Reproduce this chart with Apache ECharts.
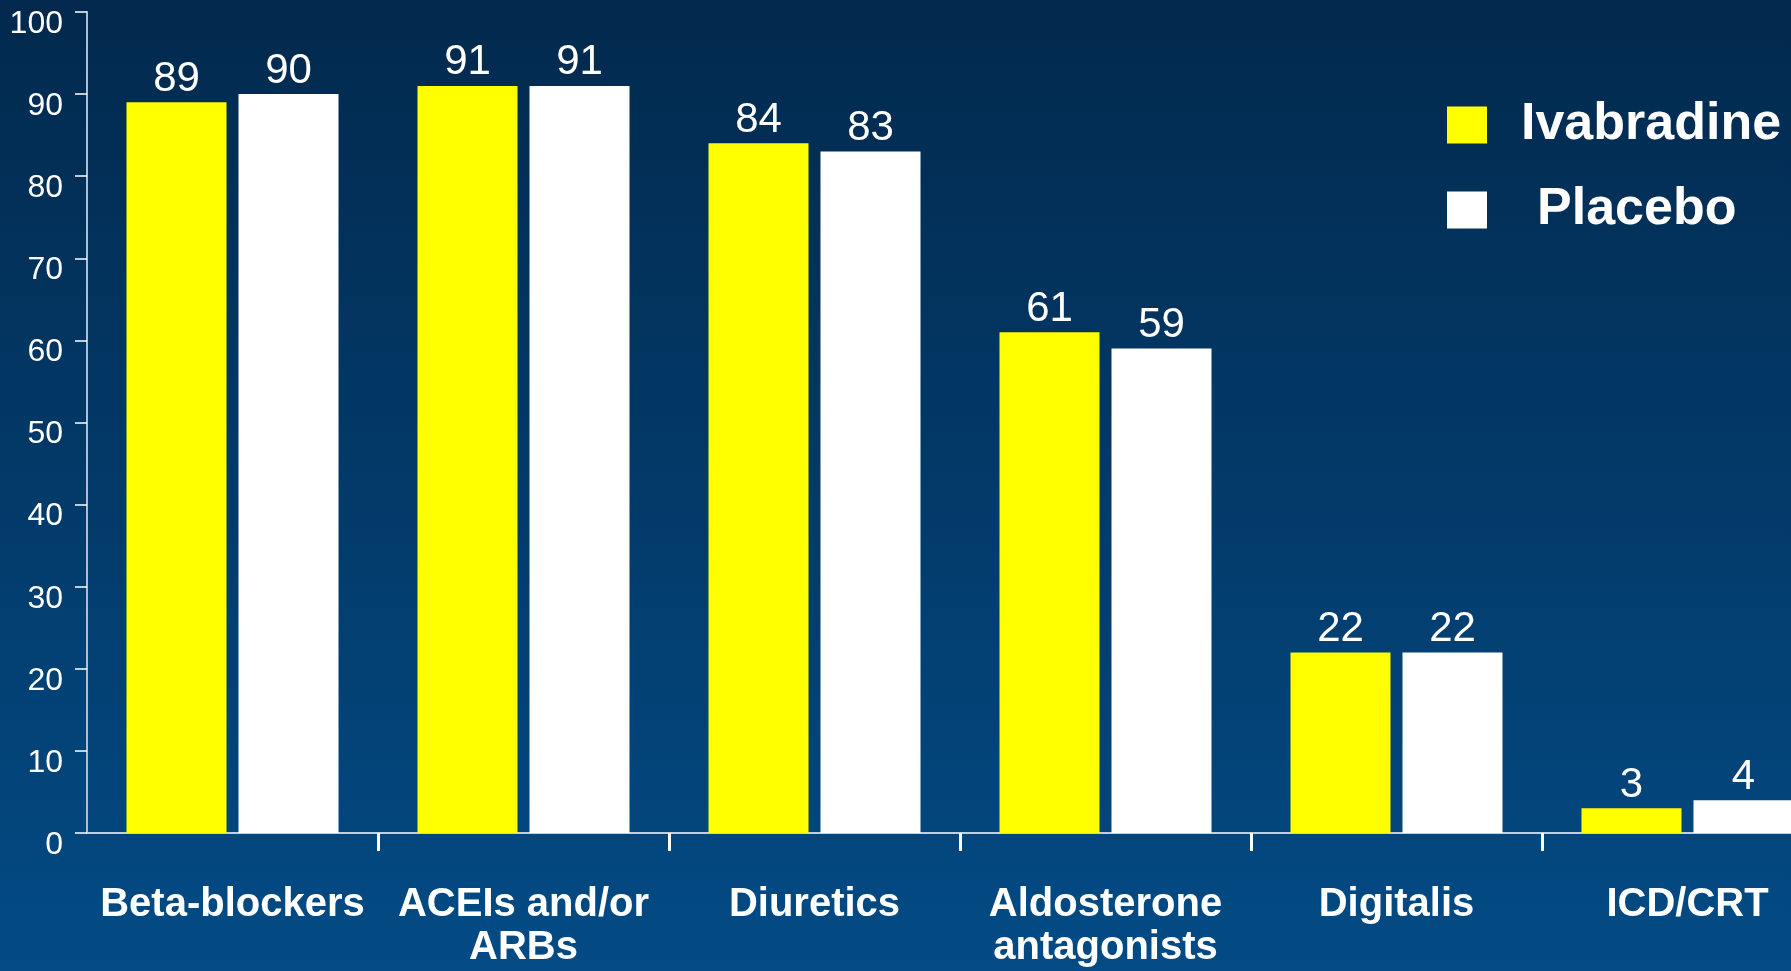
<!DOCTYPE html>
<html>
<head>
<meta charset="utf-8">
<script src="https://cdn.jsdelivr.net/npm/echarts@6/dist/echarts.min.js"></script>
<style>
  html, body { margin: 0; padding: 0; width: 100%; height: 100%; overflow: hidden; background: #034c84; }
  /* the plot runs past the right edge of the window, so the last pair of bars is cut off */
  #chart { width: 1833px; height: 971px; }
</style>
</head>
<body>
<div id="chart"></div>
<script>
// Concomitant medication use at baseline (% of patients)
const categories = ['Beta-blockers', 'ACEIs and/or\nARBs', 'Diuretics', 'Aldosterone\nantagonists', 'Digitalis', 'ICD/CRT'];
const ivabradine = [89, 91, 84, 61, 22, 3];
const placebo = [90, 91, 83, 59, 22, 4];
const yTicks = { min: 0, max: 100, interval: 10 };

const FONT = '"Liberation Sans", Arial, Helvetica, sans-serif';

const chart = echarts.init(document.getElementById('chart'), null, { renderer: 'canvas' });

const barLabel = {
  show: true,
  position: 'top',
  distance: 2,
  color: '#ffffff',
  fontFamily: FONT,
  fontSize: 42,
  fontWeight: 'normal'
};

chart.setOption({
  backgroundColor: {
    type: 'linear', x: 0, y: 0, x2: 0, y2: 1,
    colorStops: [
      { offset: 0, color: '#02294d' },
      { offset: 1, color: '#034b85' }
    ]
  },
  animation: false,
  textStyle: { fontFamily: FONT },
  legend: {
    orient: 'vertical',
    left: 1447,
    top: 99,
    padding: 0,
    itemWidth: 40,
    itemHeight: 37,
    itemGap: 33,
    icon: 'rect',
    data: ['Ivabradine', 'Placebo'],
    formatter: function (name) {
      return name === 'Placebo' ? '{p|' + name + '}' : '{i|' + name + '}';
    },
    textStyle: {
      color: '#ffffff',
      fontFamily: FONT,
      fontSize: 52,
      fontWeight: 'bold',
      rich: {
        i: { fontSize: 52, fontWeight: 'bold', color: '#ffffff', fontFamily: FONT, padding: [0, 0, 0, 29] },
        p: { fontSize: 52, fontWeight: 'bold', color: '#ffffff', fontFamily: FONT, padding: [0, 0, 0, 45] }
      }
    }
  },
  grid: {
    left: 87,
    right: 0,
    top: 12,
    bottom: 138,
    containLabel: false
  },
  xAxis: {
    type: 'category',
    data: categories,
    boundaryGap: true,
    axisLine: { show: true, lineStyle: { color: '#c4cfde', width: 2 } },
    axisTick: {
      show: true,
      interval: function (index) { return index > 0; },
      length: 18,
      lineStyle: { color: '#ffffff', width: 3 }
    },
    axisLabel: {
      color: '#ffffff',
      fontFamily: FONT,
      fontSize: 40,
      fontWeight: 'bold',
      lineHeight: 43,
      margin: 50,
      interval: 0,
      align: 'center'
    }
  },
  yAxis: {
    type: 'value',
    min: yTicks.min,
    max: yTicks.max,
    interval: yTicks.interval,
    splitLine: { show: false },
    axisLine: { show: true, lineStyle: { color: '#aebdd2', width: 2 } },
    axisTick: { show: true, inside: false, length: 12, lineStyle: { color: '#ffffff', width: 1.5 } },
    axisLabel: {
      color: '#ffffff',
      fontFamily: FONT,
      fontSize: 32,
      margin: 24,
      verticalAlign: 'top',
      padding: [-4, 0, 0, 0]
    }
  },
  series: [
    {
      name: 'Ivabradine',
      type: 'bar',
      data: ivabradine,
      barWidth: 100,
      barGap: '12%',
      itemStyle: { color: '#ffff00' },
      label: barLabel
    },
    {
      name: 'Placebo',
      type: 'bar',
      data: placebo,
      barWidth: 100,
      itemStyle: { color: '#ffffff' },
      label: barLabel
    }
  ]
});
</script>
</body>
</html>
